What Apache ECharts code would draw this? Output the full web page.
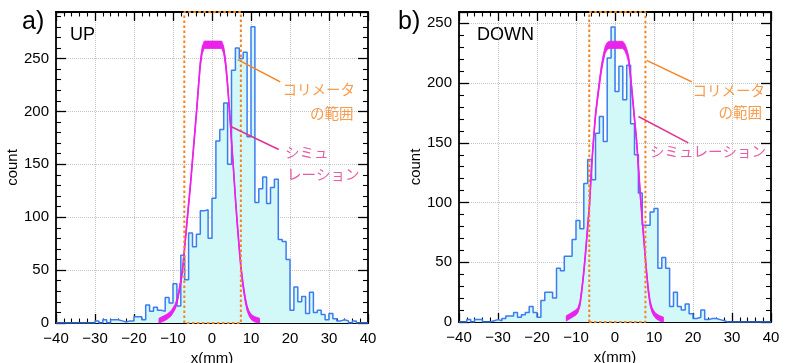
<!DOCTYPE html>
<html>
<head>
<meta charset="utf-8">
<script src="https://cdn.jsdelivr.net/npm/echarts@6/dist/echarts.min.js"></script>
<style>
  html, body { margin: 0; padding: 0; background: #ffffff; }
  #chart { width: 787px; height: 363px; }
</style>
</head>
<body>
<div id="chart"></div>
<script>
// Histogram binning: 1 mm bins from -40 mm to 40 mm
const binStart = -40;
const binWidth = 1;

// Measured counts per bin, UP detector (bins -40 ... 39)
const upCounts = [
  0, 0, 0, 0, 0, 0, 0, 0, 0, 0,
  2, 0, 3, 0, 3, 3, 2, 1, 2, 2,
  6, 6, 3, 17, 11, 15, 12, 11, 24, 19,
  37, 16, 64, 41, 85, 72, 84, 106, 107, 80,
  118, 172, 183, 208, 150, 239, 260, 250, 256, 176,
  280, 114, 127, 138, 113, 128, 136, 79, 77, 60,
  12, 34, 20, 25, 9, 29, 10, 12, 8, 3,
  9, 4, 2, 3, 2, 0, 2, 0, 0, 0
];

// Measured counts per bin, DOWN detector (bins -40 ... 39)
const downCounts = [
  0, 0, 2, 0, 2, 2, 0, 0, 1, 2,
  1, 3, 5, 5, 8, 4, 6, 8, 13, 8,
  4, 18, 25, 25, 20, 45, 43, 55, 55, 69,
  85, 78, 116, 136, 119, 158, 172, 151, 221, 247,
  193, 214, 186, 215, 166, 140, 108, 81, 81, 92,
  95, 45, 54, 45, 13, 25, 13, 10, 15, 7,
  3, 4, 10, 2, 3, 3, 2, 1, 0, 0,
  0, 0, 0, 0, 0, 0, 0, 0, 0, 0
];

// Simulated profile (UP): position, expected count, uncertainty
const upSimX = [-13.6, -12.5, -11.5, -10.5, -10, -9.5, -9, -8.5, -8, -7.5,
  -7, -6.5, -6, -5.5, -5, -4.5, -4, -3.5, -3, -2.5,
  -2, 0, 2.5, 3, 3.5, 4, 4.5, 5, 5.5, 6,
  6.5, 7, 7.5, 8, 8.5, 9, 9.5, 10, 10.5, 11, 12.2];
const upSimY = [2, 4, 6, 9, 12, 15, 20, 29, 39, 52,
  72, 92, 112, 132, 154, 176, 198, 222, 245, 258,
  263, 263, 263, 258, 245, 225, 200, 172, 146, 118,
  93, 70, 50, 35, 23, 14, 9, 6, 4.5, 3.5, 2];
const upSimErr = [2.5, 2.5, 2.5, 2.5, 2.5, 2.5, 2.5, 2.5, 2.5, 2.5,
  2.5, 2.5, 2.5, 2.5, 2.5, 2.5, 2.5, 3, 3, 3.5,
  3.5, 3.5, 3.5, 3.5, 3, 3, 2.5, 2.5, 2.5, 2.5,
  2.5, 2.5, 2.5, 2.5, 2.5, 2.5, 2.5, 2.5, 2.5, 2.5, 2.5];

// Simulated profile (DOWN)
const downSimX = [-12.5, -11.5, -10.5, -10, -9.5, -9, -8.5, -8, -7.5, -7,
  -6.5, -6, -5.5, -5, -4.5, -4, -3.5, -3, -2.5, -2,
  -1.5, 2, 2.5, 3, 3.5, 4, 4.5, 5, 5.5, 6,
  6.5, 7, 7.5, 8, 8.5, 9, 9.5, 10, 10.5, 11.5, 12.4];
const downSimY = [3, 5, 7, 8, 10, 15, 27, 42, 60, 80,
  100, 130, 153, 173, 187, 200, 212, 221, 228, 231,
  232, 232, 230, 226, 220, 205, 188, 170, 153, 130,
  106, 85, 65, 45, 28, 16, 10, 7, 5, 3, 2];
const downSimErr = [2.2, 2.2, 2.2, 2.2, 2.2, 2.2, 2.2, 2.2, 2.2, 2.2,
  2.2, 2.2, 2.2, 2.2, 2.5, 2.5, 2.8, 3, 3, 3,
  3, 3, 3, 3, 2.8, 2.5, 2.5, 2.2, 2.2, 2.2,
  2.2, 2.2, 2.2, 2.2, 2.2, 2.2, 2.2, 2.2, 2.2, 2.2, 2.2];

// Collimator acceptance edges (mm)
const upCollimator = [-7.1, 7.4];
const downCollimator = [-6.6, 7.8];

// Axis ranges
const xRange = [-40, 40];
const upYMax = 294;
const downYMax = 259.5;

// Annotation leader lines [from, to] and captions, in data units
const upCollimatorLeader = [[6.6, 249], [17.5, 228]];
const upSimLeader = [[4.7, 186], [17.1, 164]];
const downCollimatorLeader = [[8.1, 219], [19.7, 201]];
const downSimLeader = [[6.0, 172], [18.8, 150]];

const ORANGE = '#f5821f';
const PINK = '#e0338f';
const MAGENTA = '#ea22ea';
const BLUE = '#3b7cf0';
const FILL = '#d3f8f8';

const upNotes = [
  { text: 'コリメータ', at: [18.1, 220.5], side: 'right', color: ORANGE },
  { text: 'の範囲', at: [36.3, 198.5], side: 'left', color: ORANGE },
  { text: 'シミュ', at: [18.7, 161.5], side: 'right', color: PINK },
  { text: 'レーション', at: [19.2, 140], side: 'right', color: PINK }
];
const downNotes = [
  { text: 'コリメータ', at: [19.9, 194], side: 'right', color: ORANGE },
  { text: 'の範囲', at: [37.7, 175], side: 'left', color: ORANGE },
  { text: 'シミュレーション', at: [9.0, 143], side: 'right', color: PINK }
];

const LATIN = "'Liberation Sans', Arial, Helvetica, sans-serif";
const CJK = "'Noto Sans CJK JP', 'Noto Sans', sans-serif";

function histPoints(counts) {
  const pts = counts.map((c, i) => [binStart + i * binWidth, c]);
  pts.push([binStart + counts.length * binWidth, counts[counts.length - 1]]);
  return pts;
}

function xAxes(gridIndex) {
  const common = {
    gridIndex, type: 'value', min: xRange[0], max: xRange[1], interval: 10,
    axisLine: { show: true, onZero: false, lineStyle: { color: '#000', width: 1.8 } },
    axisTick: { show: true, inside: true, length: 9, lineStyle: { color: '#000', width: 1.3 } },
    minorTick: { show: true, splitNumber: 5, length: 4.5, lineStyle: { color: '#000', width: 1.1 } },
    minorSplitLine: { show: false }
  };
  return [
    Object.assign({}, common, {
      position: 'bottom',
      splitLine: { show: true, lineStyle: { color: '#c4c4c4', type: 'dotted', width: 1 } },
      axisLabel: {
        show: true, margin: 8, color: '#000', fontSize: 15, fontFamily: LATIN,
        formatter: v => String(v).replace('-', '\u2212')
      },
      name: 'x(mm)', nameLocation: 'middle', nameGap: 26,
      nameTextStyle: { color: '#000', fontSize: 15, fontFamily: LATIN }
    }),
    Object.assign({}, common, {
      position: 'top', axisLabel: { show: false }, splitLine: { show: false }
    })
  ];
}

function yAxes(gridIndex, yMax, gap) {
  const common = {
    gridIndex, type: 'value', min: 0, max: yMax, interval: 50,
    axisLine: { show: true, onZero: false, lineStyle: { color: '#000', width: 1.8 } },
    axisTick: { show: true, inside: true, length: 10, lineStyle: { color: '#000', width: 1.3 } },
    minorTick: { show: true, splitNumber: 5, length: 5, lineStyle: { color: '#000', width: 1.1 } },
    minorSplitLine: { show: false }
  };
  return [
    Object.assign({}, common, {
      position: 'left',
      splitLine: { show: true, lineStyle: { color: '#c4c4c4', type: 'dotted', width: 1 } },
      axisLabel: {
        show: true, margin: 7, color: '#000', fontSize: 15, fontFamily: LATIN,
        formatter: v => (v % 50 === 0 ? String(v) : '')
      },
      name: 'count', nameLocation: 'middle', nameGap: gap,
      nameTextStyle: { color: '#000', fontSize: 15, fontFamily: LATIN }
    }),
    Object.assign({}, common, {
      position: 'right', axisLabel: { show: false }, splitLine: { show: false }
    })
  ];
}

function histogramSeries(counts, xi, yi) {
  return {
    type: 'line', xAxisIndex: xi, yAxisIndex: yi, step: 'end',
    data: histPoints(counts), symbol: 'none', silent: true, z: 2,
    lineStyle: { color: BLUE, width: 1.5 },
    areaStyle: { color: FILL, opacity: 1 }
  };
}

function simBandSeries(xs, ys, es, xi, yi) {
  return {
    type: 'custom', xAxisIndex: xi, yAxisIndex: yi, silent: true, z: 3,
    data: [[xs[0], ys[0]]],
    renderItem: (params, api) => {
      const pts = [];
      for (let i = 0; i < xs.length; i++) pts.push(api.coord([xs[i], ys[i] + es[i]]));
      for (let i = xs.length - 1; i >= 0; i--) pts.push(api.coord([xs[i], Math.max(0, ys[i] - es[i])]));
      return {
        type: 'polygon', shape: { points: pts },
        style: { fill: MAGENTA, stroke: MAGENTA, lineWidth: 0.8 }
      };
    }
  };
}

function simLineSeries(xs, ys, xi, yi) {
  return {
    type: 'line', xAxisIndex: xi, yAxisIndex: yi, symbol: 'none', silent: true, z: 4,
    smooth: 0.3,
    data: xs.map((x, i) => [x, ys[i]]),
    lineStyle: { color: MAGENTA, width: 1.6 }
  };
}

function collimatorSeries(edges, yMax, xi, yi) {
  return {
    type: 'line', xAxisIndex: xi, yAxisIndex: yi, symbol: 'none', silent: true, z: 5,
    clip: false,
    data: [[edges[0], 0], [edges[0], yMax], [edges[1], yMax], [edges[1], 0], [edges[0], 0]],
    lineStyle: { color: ORANGE, width: 2, type: [2.5, 2.5] }
  };
}

function leaderSeries(seg, color, xi, yi) {
  return {
    type: 'line', xAxisIndex: xi, yAxisIndex: yi, symbol: 'none', silent: true, z: 6,
    data: seg, lineStyle: { color, width: 1.5 }
  };
}

function noteSeries(notes, xi, yi) {
  return {
    type: 'scatter', xAxisIndex: xi, yAxisIndex: yi, symbolSize: 0, silent: true, z: 7,
    data: notes.map(n => ({
      value: n.at,
      label: {
        show: true, formatter: n.text, position: n.side, distance: 0,
        color: n.color, fontSize: 14.5, fontFamily: CJK
      }
    }))
  };
}

const chart = echarts.init(document.getElementById('chart'), null, { renderer: 'canvas' });

const option = {
  animation: false,
  backgroundColor: '#ffffff',
  grid: [
    { left: 56, top: 12, width: 312, height: 311, containLabel: false, outerBoundsMode: 'none' },
    { left: 459, top: 12, width: 312, height: 310, containLabel: false, outerBoundsMode: 'none' }
  ],
  xAxis: [...xAxes(0), ...xAxes(1)],
  yAxis: [...yAxes(0, upYMax, 29), ...yAxes(1, downYMax, 28)],
  series: [
    histogramSeries(upCounts, 0, 0),
    simBandSeries(upSimX, upSimY, upSimErr, 0, 0),
    simLineSeries(upSimX, upSimY, 0, 0),
    collimatorSeries(upCollimator, upYMax, 0, 0),
    leaderSeries(upCollimatorLeader, ORANGE, 0, 0),
    leaderSeries(upSimLeader, PINK, 0, 0),
    noteSeries(upNotes, 0, 0),

    histogramSeries(downCounts, 2, 2),
    simBandSeries(downSimX, downSimY, downSimErr, 2, 2),
    simLineSeries(downSimX, downSimY, 2, 2),
    collimatorSeries(downCollimator, downYMax, 2, 2),
    leaderSeries(downCollimatorLeader, ORANGE, 2, 2),
    leaderSeries(downSimLeader, PINK, 2, 2),
    noteSeries(downNotes, 2, 2)
  ],
  graphic: [
    { type: 'text', left: 22, top: 10, style: { text: 'a)', font: '25px ' + LATIN, fill: '#000' } },
    { type: 'text', left: 398, top: 10, style: { text: 'b)', font: '25px ' + LATIN, fill: '#000' } },
    { type: 'text', left: 70, top: 26, style: { text: 'UP', font: '18px ' + LATIN, fill: '#000' } },
    { type: 'text', left: 477, top: 26, style: { text: 'DOWN', font: '18px ' + LATIN, fill: '#000' } }
  ]
};

chart.setOption(option);
</script>
</body>
</html>
